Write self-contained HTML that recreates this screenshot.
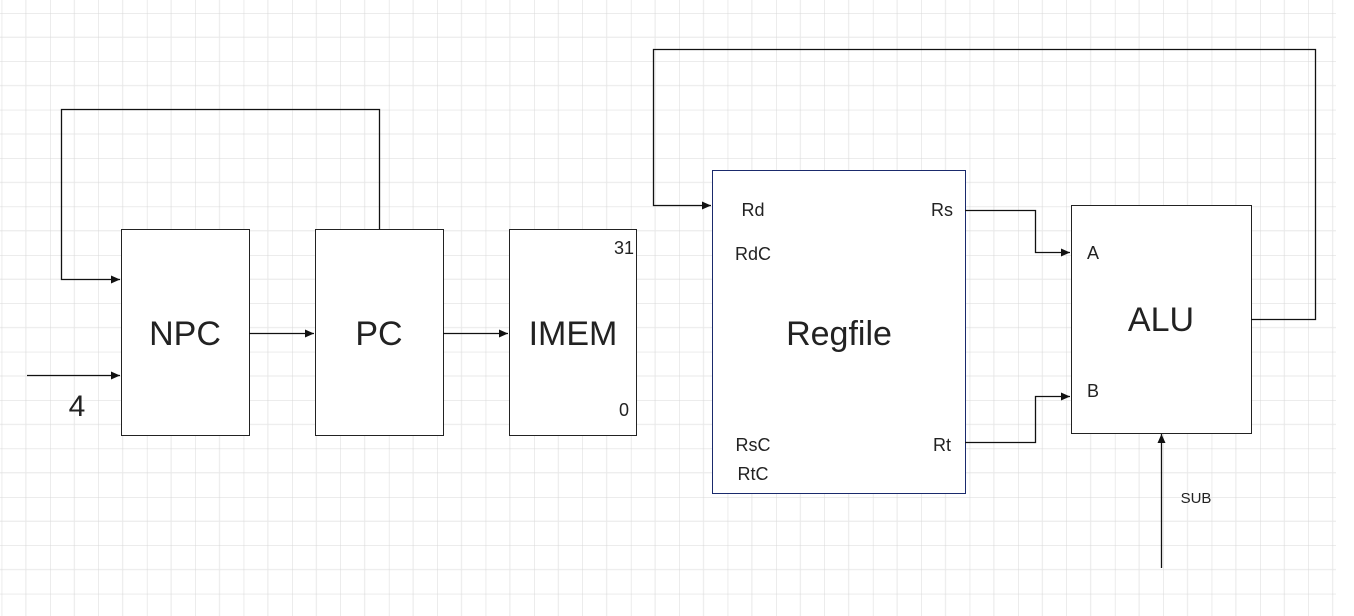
<!DOCTYPE html>
<html><head><style>body{margin:0;background:#fff}svg{display:block}</style></head><body>
<svg width="1354" height="616" xmlns="http://www.w3.org/2000/svg" font-family="Liberation Sans, sans-serif">
<defs>
<pattern id="g" x="1.7" y="13" width="48.4" height="48.4" patternUnits="userSpaceOnUse">
<path d="M0 0V48.4M24.2 0V48.4M0 0H48.4M0 24.2H48.4" stroke="#e8e8e8" stroke-width="1"/>
<path d="M0 0V48.4M0 0H48.4" stroke="#d8d8d8" stroke-width="1"/>
</pattern>
<marker id="a" markerWidth="10" markerHeight="8" refX="9" refY="4" orient="auto" markerUnits="userSpaceOnUse"><path d="M0 0L9 4L0 8z" fill="#111"/></marker>
</defs>
<rect x="0" y="0" width="1336" height="616" fill="url(#g)"/>
<g fill="#fff" stroke="#222" stroke-width="1">
<rect x="121.5" y="229.5" width="128" height="206"/>
<rect x="315.5" y="229.5" width="128" height="206"/>
<rect x="509.5" y="229.5" width="127" height="206"/>
<rect x="712.5" y="170.5" width="253" height="323" stroke="#1a2a6c"/>
<rect x="1071.5" y="205.5" width="180" height="228"/>
</g>
<g fill="none" stroke="#111" stroke-width="1.3">
<path d="M379.5 229V109.5H61.5V279.5H120" marker-end="url(#a)"/>
<path d="M27 375.5H120" marker-end="url(#a)"/>
<path d="M249 333.5H314" marker-end="url(#a)"/>
<path d="M443 333.5H508" marker-end="url(#a)"/>
<path d="M1251 319.5H1315.5V49.5H653.5V205.5H711" marker-end="url(#a)"/>
<path d="M965 210.5H1035.5V252.5H1070" marker-end="url(#a)"/>
<path d="M965 442.5H1035.5V396.5H1070" marker-end="url(#a)"/>
<path d="M1161.5 568V434" marker-end="url(#a)"/>
</g>
<g fill="#222">
<text x="185" y="345" font-size="34" text-anchor="middle">NPC</text>
<text x="379" y="345" font-size="34" text-anchor="middle">PC</text>
<text x="573" y="345" font-size="34" text-anchor="middle">IMEM</text>
<text x="839" y="345" font-size="34" text-anchor="middle">Regfile</text>
<text x="1161" y="331" font-size="34" text-anchor="middle">ALU</text>
<text x="77" y="416" font-size="30" text-anchor="middle">4</text>
<text x="624" y="254" font-size="18" text-anchor="middle">31</text>
<text x="624" y="416" font-size="18" text-anchor="middle">0</text>
<text x="753" y="216" font-size="18" text-anchor="middle">Rd</text>
<text x="753" y="260" font-size="18" text-anchor="middle">RdC</text>
<text x="942" y="216" font-size="18" text-anchor="middle">Rs</text>
<text x="942" y="451" font-size="18" text-anchor="middle">Rt</text>
<text x="753" y="451" font-size="18" text-anchor="middle">RsC</text>
<text x="753" y="480" font-size="18" text-anchor="middle">RtC</text>
<text x="1093" y="259" font-size="18" text-anchor="middle">A</text>
<text x="1093" y="397" font-size="18" text-anchor="middle">B</text>
<text x="1196" y="503" font-size="15" text-anchor="middle">SUB</text>
</g>
</svg>
</body></html>
